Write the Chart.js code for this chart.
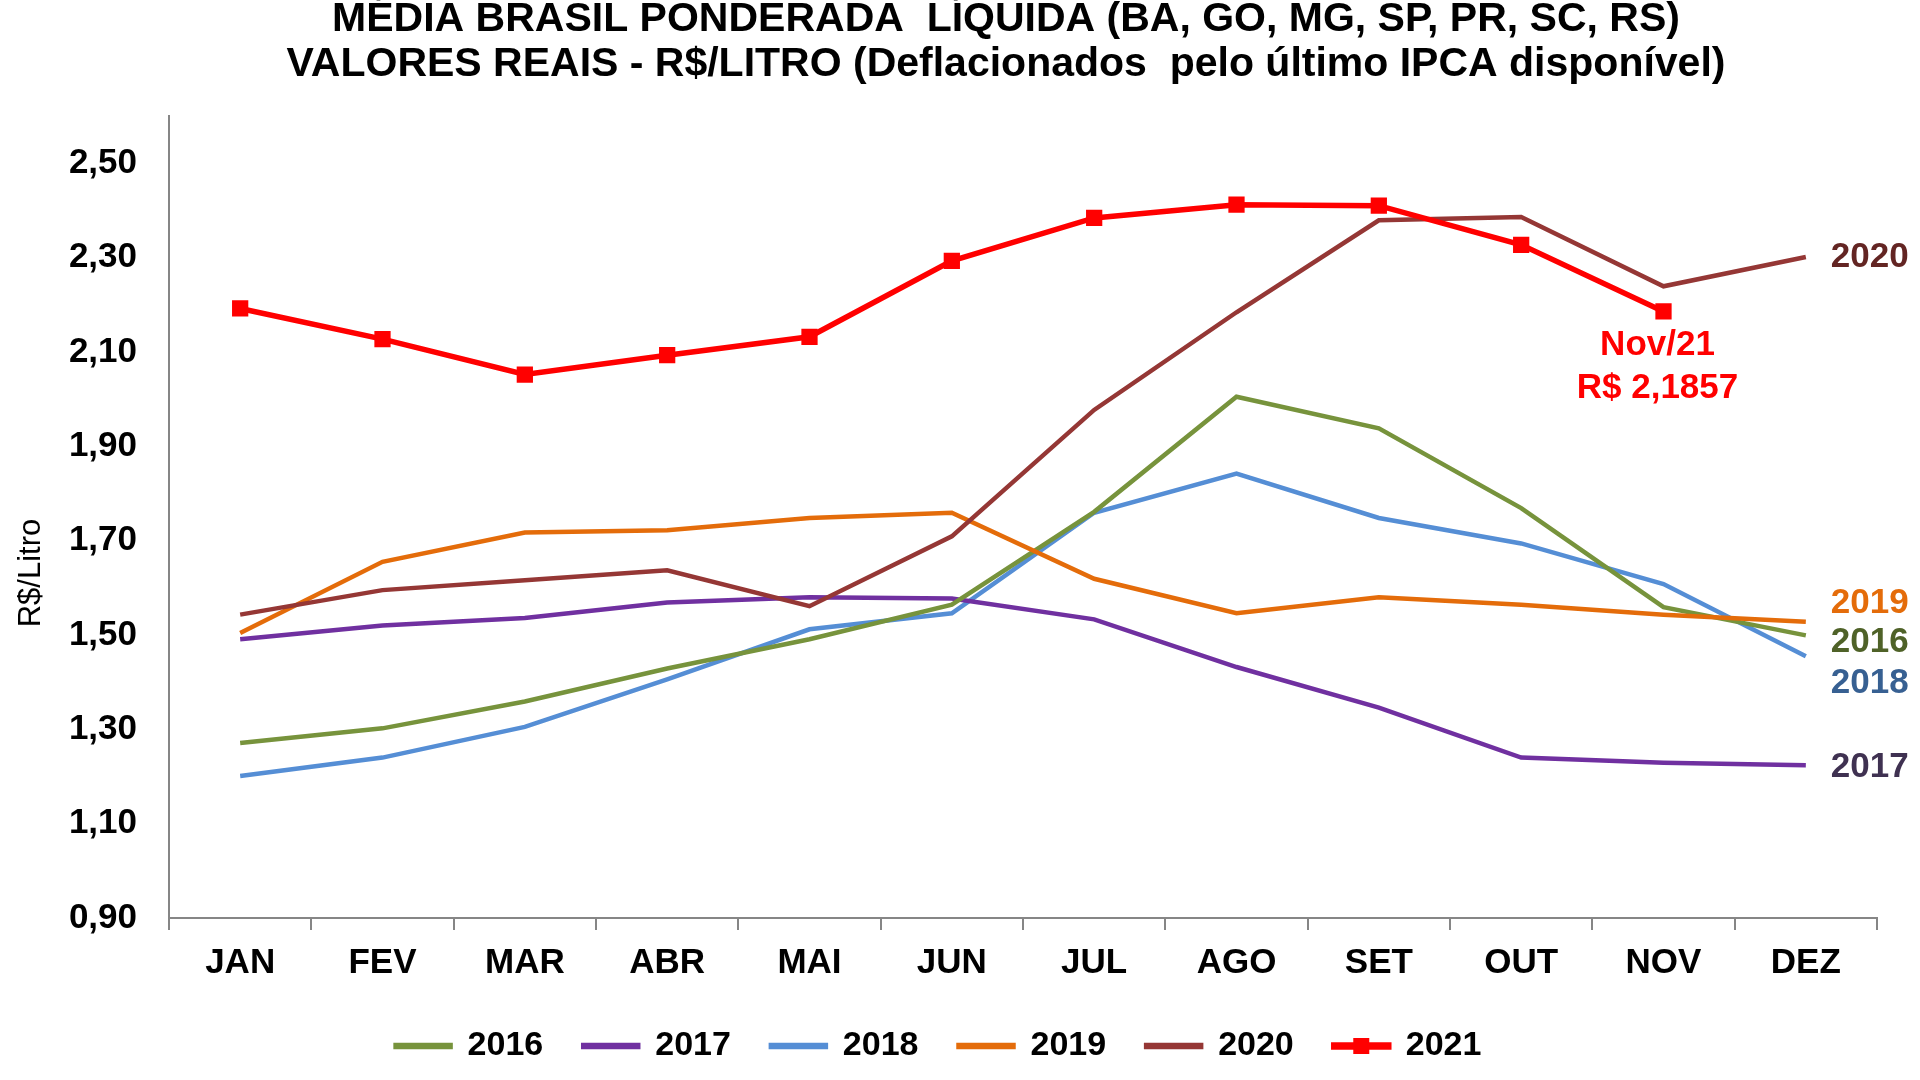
<!DOCTYPE html>
<html>
<head>
<meta charset="utf-8">
<script src="https://cdn.jsdelivr.net/npm/chart.js@4.4.1/dist/chart.umd.min.js"></script>
<style>
  html, body { margin: 0; padding: 0; background: #fff; }
  #wrap { width: 1920px; height: 1080px; }
</style>
</head>
<body>
<div id="wrap"><canvas id="chart"></canvas></div>
<script>
// ---- Data ---------------------------------------------------------------

const MONTHS = ['JAN', 'FEV', 'MAR', 'ABR', 'MAI', 'JUN', 'JUL', 'AGO', 'SET', 'OUT', 'NOV', 'DEZ'];

const Y2016 = [1.271, 1.302, 1.359, 1.429, 1.491, 1.564, 1.761, 2.005, 1.938, 1.769, 1.559, 1.499];
const Y2017 = [1.491, 1.520, 1.536, 1.569, 1.580, 1.577, 1.533, 1.432, 1.346, 1.240, 1.229, 1.224];
const Y2018 = [1.201, 1.240, 1.305, 1.406, 1.512, 1.546, 1.759, 1.842, 1.748, 1.694, 1.608, 1.455];
const Y2019 = [1.504, 1.655, 1.717, 1.722, 1.748, 1.759, 1.619, 1.546, 1.580, 1.564, 1.543, 1.528];
const Y2020 = [1.543, 1.595, 1.616, 1.637, 1.561, 1.709, 1.977, 2.184, 2.379, 2.386, 2.239, 2.301];
const Y2021 = [2.192, 2.127, 2.052, 2.093, 2.132, 2.293, 2.384, 2.412, 2.410, 2.327, 2.1857, null];

const Y_TICKS = [0.9, 1.1, 1.3, 1.5, 1.7, 1.9, 2.1, 2.3, 2.5];

const TITLE_LINES = [
    'MÉDIA BRASIL PONDERADA  LÍQUIDA (BA, GO, MG, SP, PR, SC, RS)',
    'VALORES REAIS - R$/LITRO (Deflacionados  pelo último IPCA disponível)',
];
const NOTE_LINES = ['Nov/21', 'R$ 2,1857'];

// ---- Styling ------------------------------------------------------------

const FONT = '"Liberation Sans", Arial, sans-serif';
const AXIS_GREY = '#868686';

// end-of-line year labels: dataset index, vertical nudge, colour
const END_LABELS = [
    { ds: 4, dy: 0, color: '#632523' },
    { ds: 3, dy: -18, color: '#E46C0A' },
    { ds: 0, dy: 7, color: '#4F6228' },
    { ds: 2, dy: 27, color: '#376092' },
    { ds: 1, dy: 2, color: '#3F3151' },
];

function lineSet(label, data, color, order) {
    return {
        label,
        data,
        borderColor: color,
        backgroundColor: color,
        borderWidth: 4.5,
        pointRadius: 0,
        pointHoverRadius: 0,
        tension: 0,
        order,
    };
}

const datasets = [
    lineSet('2016', Y2016, '#77933C', 3),
    lineSet('2017', Y2017, '#7030A0', 3),
    lineSet('2018', Y2018, '#558ED5', 3),
    lineSet('2019', Y2019, '#E46C0A', 2),
    lineSet('2020', Y2020, '#953735', 1),
    {
        ...lineSet('2021', Y2021, '#FF0000', 0),
        borderWidth: 5.5,
        pointStyle: 'rect',
        pointRadius: 11.5,
        pointBackgroundColor: '#FF0000',
        pointBorderColor: '#FF0000',
        pointBorderWidth: 0,
    },
];

// ---- Extra text (title, axis title, labels, note) -----------------------

const decorations = {
    id: 'decorations',
    afterDraw(chart) {
        const { ctx, scales: { x, y } } = chart;
        ctx.save();
        ctx.fillStyle = '#000';
        ctx.textAlign = 'center';
        ctx.textBaseline = 'middle';
        ctx.font = `bold 41px ${FONT}`;
        ctx.fillText(TITLE_LINES[0], 1006, 20);
        ctx.fillText(TITLE_LINES[1], 1006, 65);

        // y axis title
        ctx.save();
        ctx.translate(31, 573);
        ctx.rotate(-Math.PI / 2);
        ctx.font = `31px ${FONT}`;
        ctx.fillText('R$/Litro', 0, 0);
        ctx.restore();

        // year labels at the end of each line
        ctx.font = `bold 35px ${FONT}`;
        ctx.textAlign = 'left';
        const last = MONTHS.length - 1;
        for (const l of END_LABELS) {
            const v = chart.data.datasets[l.ds].data[last];
            ctx.fillStyle = l.color;
            ctx.fillText(chart.data.datasets[l.ds].label, x.getPixelForValue(last) + 25, y.getPixelForValue(v) + l.dy);
        }

        // note under the last 2021 point
        const nov = 10;
        const px = x.getPixelForValue(nov) - 6;
        const py = y.getPixelForValue(Y2021[nov]);
        ctx.fillStyle = '#FF0000';
        ctx.textAlign = 'center';
        ctx.fillText(NOTE_LINES[0], px, py + 34);
        ctx.fillText(NOTE_LINES[1], px, py + 77);

        // square marker on the 2021 legend swatch
        const idx = chart.legend.legendItems.findIndex(it => it.text === '2021');
        const hb = chart.legend.legendHitBoxes[idx];
        if (hb) {
            const fs = 34;
            const cx = hb.left + 55 / 2;
            const cy = hb.top + fs / 2;
            ctx.fillRect(cx - 8, cy - 8, 16, 16);
        }
        ctx.restore();
    },
};

// ---- Chart --------------------------------------------------------------

new Chart(document.getElementById('chart'), {
    type: 'line',
    data: { labels: MONTHS, datasets },
    plugins: [decorations],
    options: {
        responsive: true,
        maintainAspectRatio: false,
        animation: false,
        devicePixelRatio: 1,
        layout: { padding: { left: 0, right: 43, top: 116, bottom: 7 } },
        plugins: {
            title: { display: false },
            tooltip: { enabled: false },
            legend: {
                position: 'bottom',
                labels: {
                    color: '#000',
                    font: { family: FONT, size: 34, weight: 'bold' },
                    boxWidth: 55,
                    boxHeight: 2,
                    padding: 40,
                    sort: (a, b) => a.datasetIndex - b.datasetIndex,
                },
            },
        },
        scales: {
            x: {
                offset: true,
                afterFit: (s) => { s.height = 71; },
                grid: {
                    offset: true,
                    drawOnChartArea: false,
                    drawTicks: true,
                    tickLength: 12,
                    color: AXIS_GREY,
                    lineWidth: 2,
                },
                border: { color: AXIS_GREY, width: 2 },
                ticks: {
                    color: '#000',
                    padding: 12,
                    maxRotation: 0,
                    autoSkip: false,
                    font: { family: FONT, size: 35, weight: 'bold' },
                },
            },
            y: {
                min: 0.9,
                max: 2.6,
                afterFit: (s) => { s.width = 169; },
                afterBuildTicks: (s) => { s.ticks = Y_TICKS.map(v => ({ value: v })); },
                grid: { drawOnChartArea: false, drawTicks: false },
                border: { color: AXIS_GREY, width: 2 },
                ticks: {
                    color: '#000',
                    padding: 32,
                    font: { family: FONT, size: 35, weight: 'bold' },
                    callback: (v) => Number(v).toFixed(2).replace('.', ','),
                },
            },
        },
    },
});
</script>
</body>
</html>
